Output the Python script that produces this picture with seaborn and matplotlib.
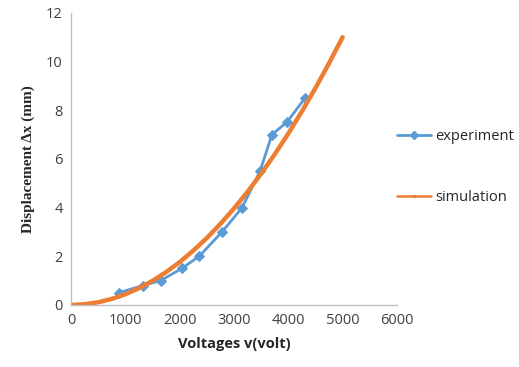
import matplotlib
import matplotlib.pyplot as plt
import pandas as pd
import seaborn as sns
from matplotlib.lines import Line2D

matplotlib.use("Agg")

# experiment measurements
exp_volt = [880, 1320, 1650, 2040, 2360, 2780, 3150, 3480, 3700, 3970, 4310]
exp_disp = [0.5, 0.8, 1.0, 1.5, 2.0, 3.0, 4.0, 5.5, 7.0, 7.5, 8.5]

# simulation curve
sim_volt = [0, 250, 500, 750, 1000, 1250, 1500, 1750, 2000, 2250, 2500,
            2750, 3000, 3250, 3500, 3750, 4000, 4250, 4500, 4750, 5000]
sim_disp = [0.0, 0.03, 0.11, 0.25, 0.44, 0.69, 0.99, 1.35, 1.76, 2.23, 2.75,
            3.33, 3.96, 4.65, 5.39, 6.19, 7.04, 7.95, 8.91, 9.93, 11.0]

BLUE = "#5B9BD5"
ORANGE = "#ED7D31"

sns.set_style("white")
plt.rcParams["font.family"] = ["Open Sans", "DejaVu Sans"]

df_exp = pd.DataFrame({"v": exp_volt, "dx": exp_disp})
df_sim = pd.DataFrame({"v": sim_volt, "dx": sim_disp})

fig = plt.figure(figsize=(5.19, 3.67), dpi=100)
ax = fig.add_axes([0.1368, 0.169, 0.628, 0.796])

sns.lineplot(data=df_exp, x="v", y="dx", ax=ax, color=BLUE, marker="D",
             markersize=5, markeredgecolor=BLUE, linewidth=2, sort=False)
sns.lineplot(data=df_sim, x="v", y="dx", ax=ax, color=ORANGE, linewidth=3.2,
             sort=False)

ax.set_xlim(0, 6000)
ax.set_ylim(0, 12)
ax.set_xticks(range(0, 6001, 1000))
ax.set_yticks(range(0, 13, 2))
ax.tick_params(length=0, labelsize=10.5, colors="#404040", pad=6)
for side in ["top", "right"]:
    ax.spines[side].set_visible(False)
for side in ["left", "bottom"]:
    ax.spines[side].set_color("#BFBFBF")
    ax.spines[side].set_linewidth(1)

ax.set_xlabel("Voltages v(volt)", fontsize=10.5, fontweight="bold", labelpad=6)
ax.set_ylabel("Displacement Δx (mm)", fontsize=11, fontweight="bold",
              family=["Liberation Serif", "DejaVu Serif"], labelpad=8)

handles = [
    Line2D([], [], color=BLUE, marker="D", markersize=4, linewidth=2),
    Line2D([], [], color=ORANGE, marker="o", markersize=1.5, linewidth=1.8),
]
fig.legend(handles, ["experiment", "simulation"], loc="upper left",
           bbox_to_anchor=(0.74, 0.685), frameon=False, fontsize=10.5,
           labelspacing=3.2, handlelength=2.3, handletextpad=0.3)

fig.savefig("out.png", dpi=100, facecolor="white")
